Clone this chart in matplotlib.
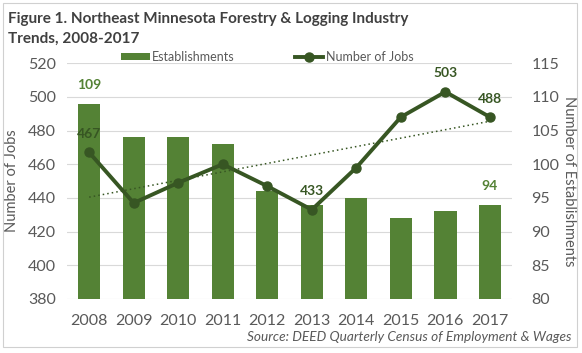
import numpy as np
import matplotlib.pyplot as plt
from matplotlib.patches import Rectangle

years = ['2008', '2009', '2010', '2011', '2012', '2013', '2014', '2015', '2016', '2017']
establishments = [109, 104, 104, 103, 96, 94, 95, 92, 93, 94]
jobs = [467, 437, 449, 460, 447, 433, 458, 488, 503, 488]

bar_color = '#548235'
line_color = '#375623'
text_gray = '#595959'

plt.rcParams['font.family'] = ['Lato', 'DejaVu Sans']

fig = plt.figure(figsize=(5.82, 3.53), dpi=100)
fig.patches.append(Rectangle((0.006, 0.017), 0.986, 0.975, transform=fig.transFigure,
                             fill=False, edgecolor='#d0d0d0', lw=0.8))

ax = fig.add_axes([0.115, 0.153, 0.765, 0.668])
ax2 = ax.twinx()

x = np.arange(len(years))

# bars on the right axis, jobs line on the left axis
ax2.bar(x, establishments, width=0.5, color=bar_color, label='Establishments', zorder=2)
ax2.set_ylim(80, 115)
ax2.set_yticks(range(80, 116, 5))

ax.set_ylim(380, 520)
ax.set_yticks(range(380, 521, 20))
ax.set_xlim(-0.5, 9.5)
ax.set_xticks(x)
ax.set_xticklabels(years)

# draw line axis above bars
ax.set_zorder(ax2.get_zorder() + 1)
ax.patch.set_visible(False)

ax2.yaxis.grid(True, color='#d9d9d9', lw=0.8, zorder=0)
ax2.set_axisbelow(True)

ax.plot(x, jobs, color=line_color, lw=2.8, marker='o', ms=6.5, label='Number of Jobs', zorder=4)
coef = np.polyfit(x, jobs, 1)
ax.plot(x, np.polyval(coef, x), color=line_color, lw=1.1, ls=(0, (1, 2)), zorder=3)

for a in (ax, ax2):
    for s in a.spines.values():
        s.set_visible(False)
    a.tick_params(length=0, labelsize=11.5, labelcolor=text_gray)
ax.tick_params(axis='x', pad=11)
ax.tick_params(axis='y', pad=8)
ax2.tick_params(axis='y', pad=14)

ax.set_ylabel('Number of Jobs', fontsize=10.5, color=text_gray, labelpad=6)
ax2.set_ylabel('Number of Establishments', fontsize=10.5, color=text_gray,
               rotation=270, labelpad=12)

# data labels
for i in (0, 9):
    ax2.annotate(str(establishments[i]), (x[i], establishments[i]), xytext=(0, 9),
                 textcoords='offset points', ha='center', va='bottom',
                 fontsize=10, fontweight='bold', color=bar_color)
for i in (0, 5, 8, 9):
    ax.annotate(str(jobs[i]), (x[i], jobs[i]), xytext=(0, 9),
                textcoords='offset points', ha='center', va='bottom',
                fontsize=10, fontweight='bold', color=line_color)

h1, l1 = ax2.get_legend_handles_labels()
h2, l2 = ax.get_legend_handles_labels()
fig.legend(h1 + h2, l1 + l2, loc='center', bbox_to_anchor=(0.459, 0.838), ncol=2,
           frameon=False, fontsize=9, labelcolor=text_gray, columnspacing=4.8,
           handlelength=2.3, handleheight=0.45, handletextpad=0.2)

fig.text(0.014, 0.965, 'Figure 1. Northeast Minnesota Forestry & Logging Industry\nTrends, 2008-2017',
         fontsize=11, fontweight='bold', color='#404040', va='top', ha='left', linespacing=1.45)
fig.text(0.982, 0.028, 'Source: DEED Quarterly Census of Employment & Wages',
         fontsize=9.8, style='italic', color=text_gray, ha='right', va='bottom')

fig.savefig('out.png', dpi=100)
